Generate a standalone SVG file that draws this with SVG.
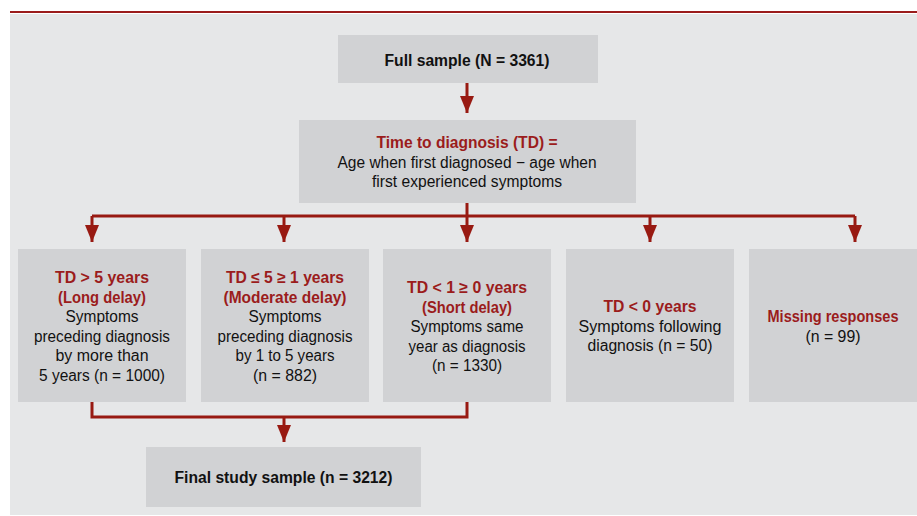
<svg xmlns="http://www.w3.org/2000/svg" width="917" height="516" viewBox="0 0 917 516">
<style>
.panel{fill:#e6e7e8}
.box{fill:#d1d2d4}
.t{font-family:"Liberation Sans",Arial,sans-serif;font-size:16px;fill:#111111;text-anchor:middle}
.b{font-weight:bold}
.r{fill:#9b1c1c;font-weight:bold}
.c{fill:none;stroke:#981a12;stroke-width:3}
</style>
<defs>
<marker id="ah" markerUnits="userSpaceOnUse" markerWidth="17" markerHeight="18" viewBox="0 0 17 18" refX="17" refY="8" orient="auto">
<path d="M0,1 L17,8 L0,15 Z" fill="#981a12"/>
</marker>
</defs>
<rect class="panel" x="10" y="14" width="907" height="501"/>
<rect x="10" y="11" width="907" height="2" fill="#9b1c1c"/>

<g id="connectors">
<line class="c" x1="467" y1="83" x2="467" y2="113" marker-end="url(#ah)"/>
<path class="c" d="M92,216 H855"/>
<line class="c" x1="467" y1="203" x2="467" y2="242" marker-end="url(#ah)"/>
<line class="c" x1="92" y1="216" x2="92" y2="242" marker-end="url(#ah)"/>
<line class="c" x1="284" y1="216" x2="284" y2="242" marker-end="url(#ah)"/>
<line class="c" x1="650" y1="216" x2="650" y2="242" marker-end="url(#ah)"/>
<line class="c" x1="855" y1="216" x2="855" y2="242" marker-end="url(#ah)"/>
<path class="c" d="M92,402 V417 H467 V402"/>
<line class="c" x1="284" y1="417" x2="284" y2="442" marker-end="url(#ah)"/>
</g>

<g id="full">
<rect class="box" x="338" y="35" width="260" height="48"/>
<text class="t b" x="467" y="66" textLength="165" lengthAdjust="spacingAndGlyphs">Full sample (N = 3361)</text>
</g>

<g id="td">
<rect class="box" x="299" y="120" width="337" height="83"/>
<text class="t r" x="467" y="148" textLength="181" lengthAdjust="spacingAndGlyphs">Time to diagnosis (TD) =</text>
<text class="t" x="467" y="167.5" textLength="259" lengthAdjust="spacingAndGlyphs">Age when first diagnosed − age when</text>
<text class="t" x="467" y="187" textLength="190" lengthAdjust="spacingAndGlyphs">first experienced symptoms</text>
</g>

<g id="long">
<rect class="box" x="18" y="249" width="168" height="153"/>
<text class="t r" x="102" y="283" textLength="94" lengthAdjust="spacingAndGlyphs">TD &gt; 5 years</text>
<text class="t r" x="102" y="302.5" textLength="88" lengthAdjust="spacingAndGlyphs">(Long delay)</text>
<text class="t" x="102" y="322" textLength="73" lengthAdjust="spacingAndGlyphs">Symptoms</text>
<text class="t" x="102" y="341.5" textLength="136" lengthAdjust="spacingAndGlyphs">preceding diagnosis</text>
<text class="t" x="102" y="361" textLength="93" lengthAdjust="spacingAndGlyphs">by more than</text>
<text class="t" x="102" y="380.5" textLength="126" lengthAdjust="spacingAndGlyphs">5 years (n = 1000)</text>
</g>

<g id="moderate">
<rect class="box" x="201" y="249" width="168" height="153"/>
<text class="t r" x="285" y="283" textLength="118" lengthAdjust="spacingAndGlyphs">TD ≤ 5 ≥ 1 years</text>
<text class="t r" x="285" y="302.5" textLength="123" lengthAdjust="spacingAndGlyphs">(Moderate delay)</text>
<text class="t" x="285" y="322" textLength="73" lengthAdjust="spacingAndGlyphs">Symptoms</text>
<text class="t" x="285" y="341.5" textLength="135" lengthAdjust="spacingAndGlyphs">preceding diagnosis</text>
<text class="t" x="285" y="361" textLength="99" lengthAdjust="spacingAndGlyphs">by 1 to 5 years</text>
<text class="t" x="285" y="380.5" textLength="64" lengthAdjust="spacingAndGlyphs">(n = 882)</text>
</g>

<g id="short">
<rect class="box" x="383" y="249" width="168" height="153"/>
<text class="t r" x="467" y="293" textLength="120" lengthAdjust="spacingAndGlyphs">TD &lt; 1 ≥ 0 years</text>
<text class="t r" x="467" y="312.5" textLength="90" lengthAdjust="spacingAndGlyphs">(Short delay)</text>
<text class="t" x="467" y="332" textLength="113" lengthAdjust="spacingAndGlyphs">Symptoms same</text>
<text class="t" x="467" y="351.5" textLength="117" lengthAdjust="spacingAndGlyphs">year as diagnosis</text>
<text class="t" x="467" y="371" textLength="70" lengthAdjust="spacingAndGlyphs">(n = 1330)</text>
</g>

<g id="negative">
<rect class="box" x="566" y="249" width="168" height="153"/>
<text class="t r" x="650" y="312" textLength="93" lengthAdjust="spacingAndGlyphs">TD &lt; 0 years</text>
<text class="t" x="650" y="331.5" textLength="143" lengthAdjust="spacingAndGlyphs">Symptoms following</text>
<text class="t" x="650" y="351" textLength="125" lengthAdjust="spacingAndGlyphs">diagnosis (n = 50)</text>
</g>

<g id="missing">
<rect class="box" x="749" y="249" width="168" height="153"/>
<text class="t r" x="833" y="322" textLength="131" lengthAdjust="spacingAndGlyphs">Missing responses</text>
<text class="t" x="833" y="341.5" textLength="55" lengthAdjust="spacingAndGlyphs">(n = 99)</text>
</g>

<g id="final">
<rect class="box" x="146" y="447" width="275" height="60"/>
<text class="t b" x="283.5" y="483" textLength="218" lengthAdjust="spacingAndGlyphs">Final study sample (n = 3212)</text>
</g>
</svg>
